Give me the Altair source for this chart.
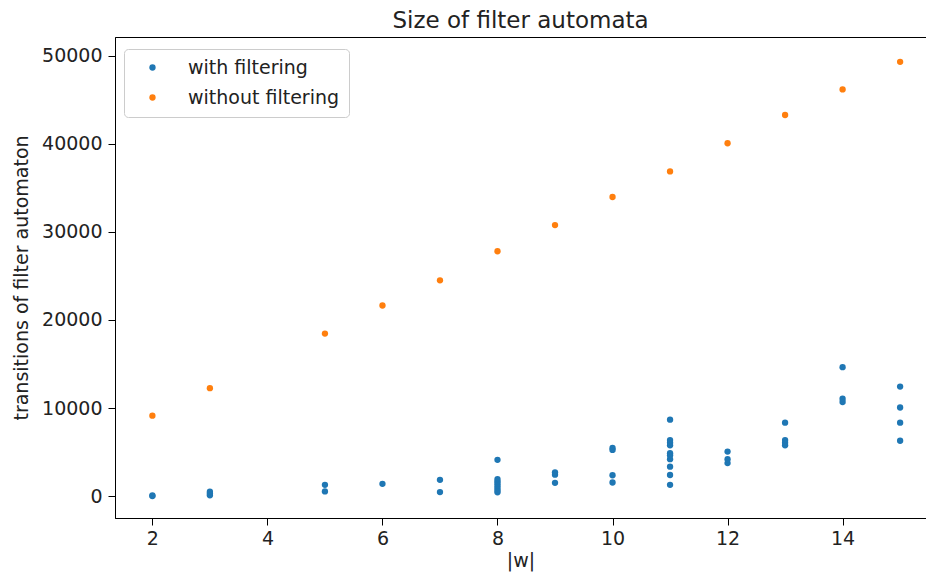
import altair as alt
import pandas as pd

# with filtering (blue)
with_x = [2, 2,
          3, 3, 3,
          5, 5,
          6,
          7, 7,
          8, 8, 8, 8, 8, 8, 8, 8,
          9, 9, 9,
          10, 10, 10, 10,
          11, 11, 11, 11, 11, 11, 11, 11, 11, 11,
          12, 12, 12,
          13, 13, 13, 13,
          14, 14, 14,
          15, 15, 15, 15]
with_y = [30, 90,
          120, 320, 520,
          560, 1300,
          1420,
          480, 1870,
          450, 700, 950, 1200, 1450, 1700, 1950, 4140,
          1530, 2460, 2720,
          1570, 2390, 5260, 5480,
          1300, 2420, 3360, 4210, 4660, 4890, 5780, 6080, 6380, 8690,
          3770, 4210, 5070,
          5780, 6080, 6380, 8350,
          10700, 11070, 14650,
          6300, 8350, 10070, 12450]

# without filtering (orange)
without_x = [2, 3, 5, 6, 7, 8, 9, 10, 11, 12, 13, 14, 15]
without_y = [9150, 12270, 18460, 21640, 24500, 27800, 30770, 33950, 36850, 40050, 43250, 46150, 49280]

series_names = ["with filtering", "without filtering"]
series_colors = ["#1f77b4", "#ff7f0e"]

x_ticks = [2, 4, 6, 8, 10, 12, 14]
y_ticks = [0, 10000, 20000, 30000, 40000, 50000]

df = pd.concat([
    pd.DataFrame({"w": with_x, "t": with_y, "series": series_names[0]}),
    pd.DataFrame({"w": without_x, "t": without_y, "series": series_names[1]}),
], ignore_index=True)

font = "DejaVu Sans"
txt = "#222222"

chart = alt.Chart(df).mark_circle(size=40, opacity=1).encode(
    x=alt.X("w:Q",
            scale=alt.Scale(domain=[1.35, 15.45], nice=False, zero=False),
            axis=alt.Axis(title="|w|", values=x_ticks, format="d",
                          grid=False, tickColor="black", domainColor="black",
                          tickSize=7, labelPadding=4, titlePadding=3)),
    y=alt.Y("t:Q",
            scale=alt.Scale(domain=[-2460, 52100], nice=False, zero=False),
            axis=alt.Axis(title="transitions of filter automaton",
                          values=y_ticks, format="d",
                          grid=False, tickColor="black", domainColor="black",
                          tickSize=7, labelPadding=6, titlePadding=10)),
    color=alt.Color("series:N",
                    scale=alt.Scale(domain=series_names, range=series_colors),
                    legend=alt.Legend(title=None, orient="none", legendX=9, legendY=12,
                                      fillColor="white", strokeColor="#cccccc",
                                      cornerRadius=4, padding=9,
                                      symbolType="circle", symbolSize=40,
                                      symbolOpacity=1, symbolOffset=10,
                                      labelFontSize=19, labelFont=font,
                                      labelOffset=26, rowPadding=10,
                                      labelColor=txt)),
).properties(
    width=811,
    height=481,
    title=alt.TitleParams("Size of filter automata", fontSize=23, font=font,
                          fontWeight="normal", anchor="middle", offset=4, color=txt),
    padding={"left": 107, "top": 29, "right": 0, "bottom": 54},
    autosize=alt.AutoSizeParams(type="none"),
    background="white",
).configure_view(
    stroke="black", strokeWidth=1
).configure_axis(
    labelFont=font, titleFont=font, labelFontSize=19, titleFontSize=19,
    titleFontWeight="normal", labelColor=txt, titleColor=txt
)

chart.save("out.html", embed_options={"renderer": "svg", "actions": False})
